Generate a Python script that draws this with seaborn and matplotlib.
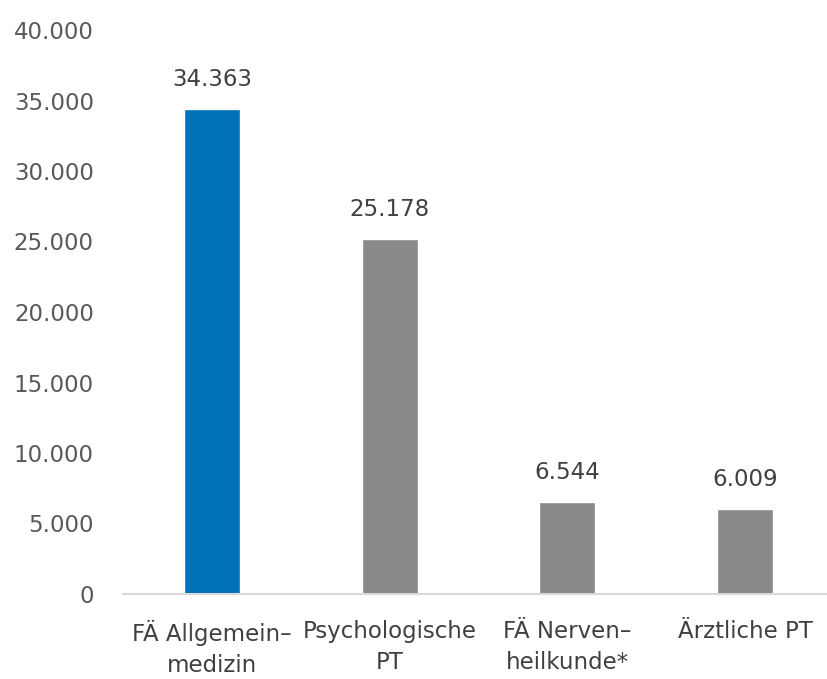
import matplotlib
matplotlib.use('Agg')
import matplotlib.pyplot as plt
from matplotlib.ticker import FuncFormatter
import seaborn as sns

# data
categories = ['FÄ Allgemein–\nmedizin', 'Psychologische\nPT', 'FÄ Nerven–\nheilkunde*', 'Ärztliche PT']
values = [34363, 25178, 6544, 6009]
barColors = ['#0070b8', '#898989', '#898989', '#898989']
yTicks = [0, 5000, 10000, 15000, 20000, 25000, 30000, 35000, 40000]


def germanNumber(x, pos=None):
    # thousands separator as a dot
    return f'{x:,.0f}'.replace(',', '.')


sns.set_style('white')
plt.rcParams['font.family'] = ['DejaVu Sans']

fig = plt.figure(figsize=(8.27, 6.79), dpi=100)
# axis runs a little past the right edge, like the original
ax = fig.add_axes([123 / 827, 85 / 679, 711 / 827, 564 / 679])

sns.barplot(x=categories, y=values, hue=categories, palette=barColors,
            legend=False, width=0.315, saturation=1, ax=ax)

ax.set_xlim(-0.5, 3.5)
ax.set_ylim(0, 40000)
ax.set_yticks(yTicks)
ax.yaxis.set_major_formatter(FuncFormatter(germanNumber))

for side in ['top', 'right', 'left']:
    ax.spines[side].set_visible(False)
ax.spines['bottom'].set_color('#d9d9d9')
ax.spines['bottom'].set_linewidth(1.5)

ax.tick_params(axis='y', length=0, pad=21, labelsize=16.5, labelcolor='#595959')
ax.tick_params(axis='x', length=0, pad=19, labelsize=16.5, labelcolor='#404040')
for lbl in ax.get_xticklabels():
    lbl.set_linespacing(1.45)
ax.set_xlabel('')
ax.set_ylabel('')

# value labels above the bars
for container in ax.containers:
    ax.bar_label(container, labels=[germanNumber(v) for v in container.datavalues],
                 padding=13, fontsize=16.5, color='#404040')

fig.savefig('out.png', dpi=100)
